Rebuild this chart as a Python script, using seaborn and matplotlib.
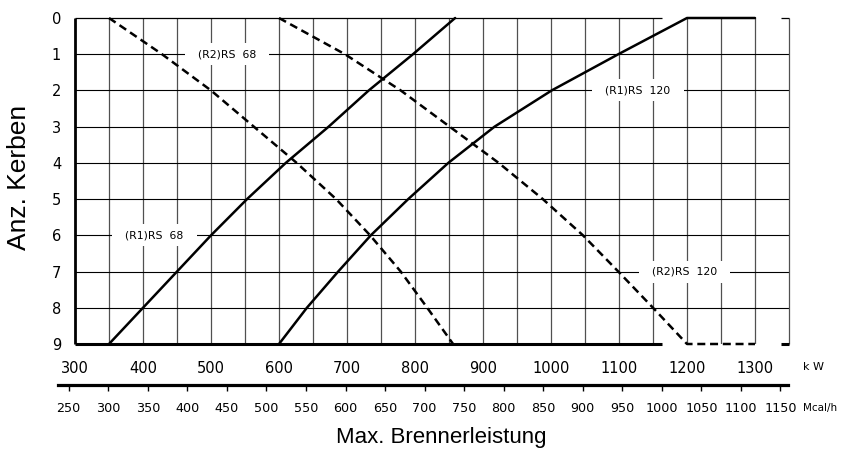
import matplotlib
matplotlib.use("Agg")
import matplotlib.pyplot as plt
import seaborn as sns

# ---------------- data ----------------
notches = [0, 1, 2, 3, 4, 5, 6, 7, 8, 9]

# (R1)RS 68  (solid): kW at notch 0..9
r1_rs68_kw = [859, 797, 732, 673, 610, 553, 500, 450, 400, 350]
# (R2)RS 68  (dashed)
r2_rs68_kw = [350, 428, 500, 563, 626, 684, 734, 779, 818, 856]
# (R1)RS 120 (solid) + flat top segment
r1_rs120_kw = [1300, 1200, 1099, 1001, 917, 849, 790, 735, 687, 641, 600]
r1_rs120_n = [0, 0, 1, 2, 3, 4, 5, 6, 7, 8, 9]
# (R2)RS 120 (dashed) + flat bottom segment
r2_rs120_kw = [600, 697, 779, 851, 923, 988, 1047, 1099, 1150, 1200, 1300]
r2_rs120_n = [0, 1, 2, 3, 4, 5, 6, 7, 8, 9, 9]

series_labels = ["(R2)RS  68", "(R1)RS  68", "(R1)RS  120", "(R2)RS  120"]
label_kw = [523, 417, 1128, 1196]
label_notch = [1, 6, 2, 7]

kw_ticks = [300, 400, 500, 600, 700, 800, 900, 1000, 1100, 1200, 1300]
mcal_ticks = [250, 300, 350, 400, 450, 500, 550, 600, 650, 700, 750, 800,
              850, 900, 950, 1000, 1050, 1100, 1150]
notch_ticks = [0, 1, 2, 3, 4, 5, 6, 7, 8, 9]
KW_PER_MCAL = 1.163

# ---------------- style ----------------
sns.set_theme(style="white")
plt.rcParams["font.family"] = ["DejaVu Sans"]

W, H = 850, 449
fig = plt.figure(figsize=(W / 100, H / 100), dpi=100)
fig.patch.set_facecolor("white")

L, R, T, B = 75, 789, 18, 344
ax = fig.add_axes([L / W, 1 - B / H, (R - L) / W, (B - T) / H])
ax.set_xlim(300, 1350)
ax.set_ylim(9, 0)
ax.set_facecolor("white")

# grid
grid_x = list(range(350, 1301, 50))
ax.vlines(grid_x, 0, 9, color="#505050", lw=0.9, zorder=1)
ax.hlines(notch_ticks[1:-1], 300, 1350, color="black", lw=0.8, zorder=1)

# borders
for s in ["top", "bottom", "right", "left"]:
    ax.spines[s].set_visible(False)
ax.vlines([300], 0, 9, color="black", lw=2.0, zorder=3, clip_on=False)
ax.vlines([1350], 0, 9, color="#505050", lw=0.9, zorder=3, clip_on=False)
ax.hlines([0], 300, 1163, color="black", lw=0.9, zorder=3, clip_on=False)
ax.hlines([0], 1338, 1350, color="black", lw=0.9, zorder=3, clip_on=False)
ax.hlines([9], 300, 1163, color="black", lw=2.2, zorder=3, clip_on=False)
ax.hlines([9], 1338, 1350, color="black", lw=2.2, zorder=3, clip_on=False)

# curves
dash = (0, (3.2, 1.9))
sns.lineplot(x=r1_rs68_kw, y=notches, sort=False, estimator=None, ax=ax,
             color="black", lw=1.8, zorder=5, clip_on=False)
sns.lineplot(x=r2_rs68_kw, y=notches, sort=False, estimator=None, ax=ax,
             color="black", lw=1.8, linestyle=dash, zorder=5, clip_on=False)
sns.lineplot(x=r1_rs120_kw, y=r1_rs120_n, sort=False, estimator=None, ax=ax,
             color="black", lw=1.8, zorder=5, clip_on=False)
sns.lineplot(x=r2_rs120_kw, y=r2_rs120_n, sort=False, estimator=None, ax=ax,
             color="black", lw=1.8, linestyle=dash, zorder=5, clip_on=False)

# curve labels with white boxes
for txt, xk, yn in zip(series_labels, label_kw, label_notch):
    ax.text(xk, yn, "  " + txt + "  ", ha="center", va="center", fontsize=7.8,
            color="black", zorder=4,
            bbox=dict(boxstyle="square,pad=0.55", fc="white", ec="none"))

# axes ticks
ax.set_xticks(kw_ticks)
ax.set_xticklabels([str(v) for v in kw_ticks])
ax.set_yticks(notch_ticks)
ax.set_yticklabels([str(v) for v in notch_ticks])
ax.tick_params(axis="x", length=0, pad=12, labelsize=10.5, labelcolor="black")
ax.tick_params(axis="y", length=0, pad=10, labelsize=10.5, labelcolor="black")
ax.set_xlabel("")
ax.set_ylabel("")

# secondary Mcal/h axis
x0, x1 = 58, 788
ax2 = fig.add_axes([x0 / W, 1 - 385 / H, (x1 - x0) / W, 0.0005])
kw_left = 300 + (x0 - L) * (1050 / (R - L))
kw_right = 300 + (x1 - L) * (1050 / (R - L))
ax2.set_xlim(kw_left / KW_PER_MCAL, kw_right / KW_PER_MCAL)
ax2.set_facecolor("none")
for s in ["top", "right", "left"]:
    ax2.spines[s].set_visible(False)
ax2.spines["bottom"].set_visible(True)
ax2.spines["bottom"].set_linewidth(2.3)
ax2.spines["bottom"].set_color("black")
ax2.set_yticks([])
ax2.set_xticks(mcal_ticks)
ax2.set_xticklabels([str(v) for v in mcal_ticks])
ax2.tick_params(axis="x", direction="out", length=4, width=1, color="black",
                pad=8, labelsize=9.2, labelcolor="black", bottom=True)

# unit labels
fig.text(803 / W, 1 - 367 / H, "k W", fontsize=8, color="black",
         ha="left", va="center")
fig.text(803 / W, 1 - 408 / H, "Mcal/h", fontsize=7.5, color="black",
         ha="left", va="center")

# axis titles
fig.text(19 / W, 1 - 177 / H, "Anz. Kerben", rotation=90, fontsize=19,
         family=["Liberation Sans", "DejaVu Sans"], color="black",
         ha="center", va="center")
fig.text(441 / W, 1 - 443 / H, "Max. Brennerleistung", fontsize=16,
         family=["Liberation Sans", "DejaVu Sans"], color="black",
         ha="center", va="baseline")

fig.savefig("out.png", dpi=100, facecolor="white")
